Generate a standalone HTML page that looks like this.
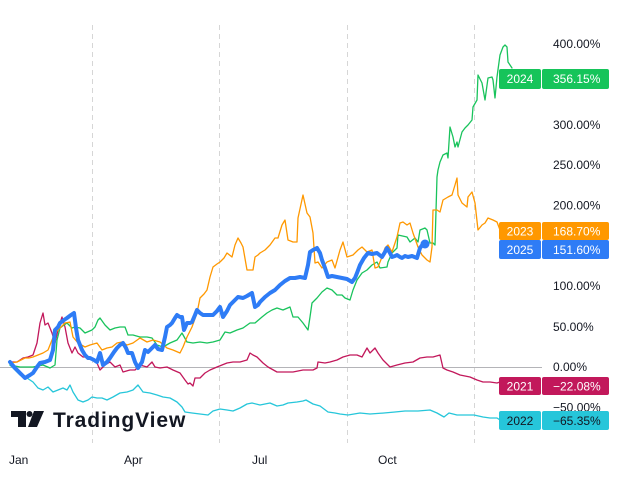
<!DOCTYPE html>
<html><head><meta charset="utf-8"><style>
html,body{margin:0;padding:0;background:#fff;}
svg{display:block;}
text{font-family:"Liberation Sans",sans-serif;}
</style></head><body>
<svg width="625" height="490" viewBox="0 0 625 490" xmlns="http://www.w3.org/2000/svg">
<rect width="625" height="490" fill="#fff"/>
<g stroke="#d6d6d6" stroke-width="1" stroke-dasharray="5,4">
<line x1="92.5" y1="25" x2="92.5" y2="443"/>
<line x1="219.5" y1="25" x2="219.5" y2="443"/>
<line x1="347.5" y1="25" x2="347.5" y2="443"/>
<line x1="474.5" y1="25" x2="474.5" y2="443"/>
</g>
<line x1="0" y1="367.5" x2="542" y2="367.5" stroke="#b4b4b8" stroke-width="1"/>
<g fill="none" stroke-linejoin="round" stroke-linecap="round" stroke-width="1.3">
<polyline stroke="#26c6da" points="10,365 15,370 20,375 27,378 33,382 38,388 43,390 48,387 53,392 58,390 63,388 67,390 70,385 73,392 78,400 83,402 88,400 92,397 97,398 102,398 107,400 113,397 120,393 127,392 133,390 138,385 143,392 150,393 157,395 163,397 170,398 177,402 182,407 185,412 192,413 200,414 208,415 213,411 220,409 227,410 233,411 240,408 247,404 252,403 260,405 270,403 277,406 283,405 288,403 297,402 303,401 306,400 313,404 320,406 328,412 335,413 340,414 348,415 360,413 370,414 384,413 395,412 405,411 418,411 430,410 437,413 444,417 449,413 457,415 467,415 474,415 483,417 490,418 497,418 500,420"/>
<polyline stroke="#c2185b" points="10,362 17,362 20,360 23,358 28,357 33,355 37,343 40,323 43,313 45,325 48,323 52,333 55,343 58,330 62,317 65,327 68,343 72,353 75,347 78,353 83,357 90,357 97,363 100,370 105,365 110,362 115,367 120,365 123,372 130,370 135,370 140,365 147,367 152,362 155,367 160,368 167,367 173,370 180,373 185,380 188,384 190,383 193,386 195,378 200,378 205,373 210,370 217,367 222,365 227,363 233,362 240,362 247,360 250,353 253,355 257,357 263,363 268,367 277,372 283,372 293,372 303,370 313,370 317,368 318,362 325,363 330,362 337,360 343,357 350,355 357,355 362,357 367,348 370,353 375,348 378,353 383,360 390,367 397,365 405,363 413,362 420,358 427,357 433,357 440,355 443,368 447,370 453,372 460,375 470,377 477,380 483,382 490,382 497,383 500,382"/>
<polyline stroke="#19c35c" points="10,365 15,366 20,367 27,367 33,367 38,366 43,365 50,368 55,365 57,340 60,328 64,325 67,323 72,328 75,327 80,328 85,333 92,330 95,327 98,320 100,318 105,325 110,330 115,328 120,327 125,327 128,335 133,335 140,337 147,337 152,338 157,345 163,347 170,343 177,340 182,333 187,342 193,343 200,342 207,343 213,342 220,340 225,332 230,333 237,330 243,328 250,323 255,323 262,317 267,313 272,310 277,308 283,310 290,307 293,317 298,317 303,323 308,330 310,317 312,303 317,298 322,292 327,288 332,290 337,295 342,295 345,298 350,300 353,290 357,280 362,273 367,270 372,265 377,262 380,268 387,267 388,262 392,253 397,248 398,235 407,237 410,242 415,238 418,242 420,230 425,228 427,230 430,243 433,243 435,245 437,177 438,170 440,162 443,155 447,153 448,158 450,127 453,137 455,147 457,142 458,147 462,132 465,128 468,125 472,120 473,107 477,100 478,75 482,83 485,100 488,78 492,77 493,80 495,98 497,77 500,55 503,47 505,45 507,47 508,62 512,68"/>
<polyline stroke="#ff9800" points="10,363 17,362 21,360 25,358 29,358 33,357 38,355 43,353 48,350 52,340 55,333 60,328 65,323 70,322 73,337 78,343 85,347 90,345 97,343 102,350 107,348 112,347 117,343 122,342 127,345 133,343 140,338 147,342 153,340 160,342 167,348 173,350 180,353 183,347 187,337 192,327 197,313 200,298 204,294 207,290 210,277 213,267 217,264 220,262 224,258 227,253 232,257 235,245 238,238 241,243 243,247 247,270 250,270 253,270 255,257 258,255 260,253 265,250 270,245 275,238 278,238 282,225 285,220 288,240 293,242 297,242 298,218 303,195 307,213 310,217 313,233 315,263 318,262 322,268 327,262 332,260 335,268 340,250 343,242 347,257 353,255 358,250 362,247 367,252 372,250 375,268 378,267 382,257 385,248 388,245 392,252 397,237 400,223 403,222 407,225 410,223 413,233 418,247 422,255 427,260 430,262 432,247 433,210 437,210 440,212 443,200 448,197 452,195 455,185 457,178 458,195 462,203 467,207 468,197 472,192 475,203 478,230 482,225 485,223 488,218 493,220 497,222 500,230"/>
</g>
<polyline fill="none" stroke="#2e7cf6" stroke-width="4" stroke-linejoin="round" stroke-linecap="round" points="10,362 15,368 20,373 25,378 30,375 33,373 37,367 40,363 45,362 50,360 53,350 55,330 58,327 60,323 64,320 67,318 71,315 74,313 76,328 78,340 82,350 85,355 88,358 90,358 94,360 97,362 100,353 103,365 107,362 110,358 114,352 117,348 120,345 123,343 126,348 128,353 132,353 135,362 138,368 142,362 145,350 148,352 150,350 155,345 158,349 162,350 165,337 167,327 170,325 172,323 175,318 177,315 180,317 182,317 184,330 187,323 190,323 192,322 195,315 197,310 200,313 203,315 208,315 213,315 217,311 220,307 223,317 227,311 230,305 234,301 238,297 243,298 247,296 252,293 255,307 258,305 260,302 265,297 270,293 275,290 280,285 285,281 290,278 295,278 300,277 305,278 308,265 310,252 313,250 317,248 320,253 322,260 325,268 328,277 332,276 337,277 342,278 347,279 352,282 355,278 357,273 360,265 364,258 368,253 372,254 377,253 382,257 385,252 387,248 390,253 392,257 395,256 397,255 400,257 402,258 405,256 408,257 412,256 417,258 420,248 423,244 425,244"/>
<circle cx="425" cy="244" r="4.5" fill="#2e7cf6"/>
<g font-size="12" fill="#131722">
<text x="553" y="48">400.00%</text>
<text x="553" y="129">300.00%</text>
<text x="553" y="169">250.00%</text>
<text x="553" y="209.5">200.00%</text>
<text x="553" y="290">100.00%</text>
<text x="553" y="331">50.00%</text>
<text x="553" y="371">0.00%</text>
<text x="553" y="411.5">−50.00%</text>
</g>
<g font-size="12">
<rect x="499" y="69" width="42" height="20" rx="2" fill="#16c45a"/>
<rect x="542" y="69" width="67" height="20" rx="2" fill="#16c45a"/>
<text x="520" y="83" text-anchor="middle" fill="#fff">2024</text>
<text x="553" y="83" fill="#fff">356.15%</text>
<rect x="499" y="222" width="42" height="18" rx="2" fill="#ff9800"/>
<rect x="542" y="222" width="67" height="18" rx="2" fill="#ff9800"/>
<text x="520" y="235.5" text-anchor="middle" fill="#fff">2023</text>
<text x="553" y="235.5" fill="#fff">168.70%</text>
<rect x="499" y="240" width="42" height="19" rx="2" fill="#2e7cf6"/>
<rect x="542" y="240" width="67" height="19" rx="2" fill="#2e7cf6"/>
<text x="520" y="254" text-anchor="middle" fill="#fff">2025</text>
<text x="553" y="254" fill="#fff">151.60%</text>
<rect x="499" y="377" width="42" height="18" rx="2" fill="#c2185b"/>
<rect x="542" y="377" width="67" height="18" rx="2" fill="#c2185b"/>
<text x="520" y="390.5" text-anchor="middle" fill="#fff">2021</text>
<text x="553" y="390.5" fill="#fff">−22.08%</text>
<rect x="499" y="411" width="42" height="19" rx="2" fill="#26c6da"/>
<rect x="542" y="411" width="67" height="19" rx="2" fill="#26c6da"/>
<text x="520" y="425" text-anchor="middle" fill="#131722">2022</text>
<text x="553" y="425" fill="#131722">−65.35%</text>
</g>
<g fill="#131722">
<path d="M11,411 H26 V427 H18 V417 H11 Z"/>
<circle cx="29.5" cy="414" r="3"/>
<path d="M34,411 H44 L37,427 H28 Z"/>
<text x="53" y="427" font-size="21" font-weight="bold" letter-spacing="0.9">TradingView</text>
</g>
<g font-size="12" fill="#131722">
<text x="9" y="464">Jan</text>
<text x="124" y="464">Apr</text>
<text x="252" y="464">Jul</text>
<text x="378" y="464">Oct</text>
</g>
</svg>
</body></html>
